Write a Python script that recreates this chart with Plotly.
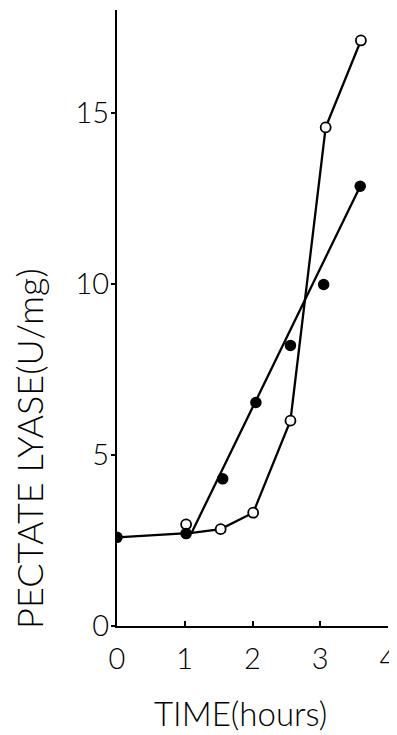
import plotly.graph_objects as go

# Data
filled_x = [0, 1.02, 1.56, 2.05, 2.56, 3.05, 3.59]
filled_y = [2.59, 2.7, 4.3, 6.53, 8.2, 9.98, 12.85]

open_x = [1.02, 1.53, 2.01, 2.56, 3.08, 3.6]
open_y = [2.97, 2.83, 3.31, 6.0, 14.57, 17.11]

# Connecting lines as drawn in the figure
filled_line_x = [0, 1.02, 1.1, 3.59]
filled_line_y = [2.59, 2.7, 2.72, 12.85]
open_line_x = [1.02, 1.53, 2.01, 2.56, 3.08, 3.6]
open_line_y = [2.7, 2.83, 3.31, 6.0, 14.57, 17.11]

x_ticks = [0, 1, 2, 3, 4]
y_ticks = [0, 5, 10, 15]

FONT = "Lato, Liberation Sans, Arial, sans-serif"

fig = go.Figure()
fig.add_trace(go.Scatter(x=filled_line_x, y=filled_line_y, mode="lines",
                         line=dict(color="black", width=2.3), hoverinfo="skip"))
fig.add_trace(go.Scatter(x=open_line_x, y=open_line_y, mode="lines",
                         line=dict(color="black", width=2.3), hoverinfo="skip"))
fig.add_trace(go.Scatter(x=open_x, y=open_y, mode="markers",
                         marker=dict(symbol="circle", size=10, color="white",
                                     line=dict(color="black", width=1.8))))
fig.add_trace(go.Scatter(x=filled_x, y=filled_y, mode="markers",
                         marker=dict(symbol="circle", size=11.5, color="black",
                                     line=dict(color="black", width=0))))

fig.update_layout(
    width=389, height=727,
    margin=dict(l=109, r=9, t=2, b=109),
    paper_bgcolor="white", plot_bgcolor="white",
    showlegend=False,
    font=dict(family=FONT, color="black", weight=300),
    xaxis=dict(range=[0, 4], tickvals=x_ticks, ticktext=[str(v) for v in x_ticks],
               showgrid=False, zeroline=False, showline=True, linecolor="black",
               linewidth=2, ticks="inside", ticklen=5, tickwidth=1.5, tickcolor="black",
               tickfont=dict(family=FONT, size=29, weight=300), ticklabelstandoff=6),
    yaxis=dict(range=[0, 18], tickvals=y_ticks, ticktext=[str(v) for v in y_ticks],
               showgrid=False, zeroline=False, showline=True, linecolor="black",
               linewidth=2, ticks="outside", ticklen=4, tickwidth=1.5, tickcolor="black",
               tickfont=dict(family=FONT, size=29, weight=300), ticklabelstandoff=-4),
    annotations=[
        dict(text="TIME(hours)", xref="paper", yref="paper", x=0.454, y=-0.141,
             xanchor="center", yanchor="middle", showarrow=False,
             font=dict(family=FONT, size=33, color="black", weight=300)),
        dict(text="PECTATE LYASE(U/mg)", xref="paper", yref="paper", x=-0.325, y=0.289,
             xanchor="center", yanchor="middle", textangle=-90, showarrow=False,
             font=dict(family=FONT, size=36, color="black", weight=300)),
    ],
)

fig.write_html("out.html")
